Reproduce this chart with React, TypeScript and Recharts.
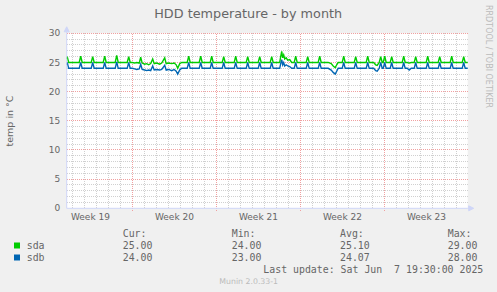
import { LineChart, Line, XAxis, YAxis, ReferenceLine, ReferenceArea, ReferenceDot } from "recharts";

// time axis in hours from the left edge of the plot (2h per rrd sample)
const hours = [
  0, 1, 4,
  25, 28, 31, 49, 52, 55, 73, 76, 79, 97, 100, 103, 121, 124, 127,
  131, 136, 140, 145, 148, 151, 156, 160, 164, 168, 172, 175, 180, 186, 190, 196, 199, 204, 210, 215, 219, 222, 226, 230,
  241, 244, 247, 265, 268, 271, 287, 290, 293, 311, 314, 317, 335, 338, 341, 359, 362, 365, 383, 386, 389, 407, 410, 413,
  426, 428, 430, 432, 434, 436, 439, 442, 446, 450,
  455, 458, 461, 479, 482, 485, 503, 506, 509,
  523, 529, 533, 537, 540, 543,
  551, 554, 557, 575, 578, 581, 599, 602, 605,
  614, 618, 621, 625, 628, 631, 633, 636, 639,
  647, 650, 653, 671, 674, 677,
  681, 685, 689,
  695, 698, 701, 719, 722, 725, 743, 746, 749, 767, 770, 773, 791, 794, 797,
  802,
];

const sda = [
  25.6, 26.0, 25.0,
  25, 26.1, 25, 25, 26.0, 25, 25, 26.1, 25, 25, 26.2, 25, 25, 26.0, 25,
  25.0, 24.9, 25.0, 24.9, 25.9, 24.9, 24.7, 24.8, 24.6, 24.8, 25.6, 24.8, 24.9, 24.7, 24.9, 25.8, 24.8, 24.9, 24.8, 24.9, 24.6, 24.0, 24.8, 25.0,
  25, 26.1, 25, 25, 26.1, 25, 25, 26.1, 25, 25, 26.0, 25, 25, 26.1, 25, 25, 26.0, 25, 25, 26.0, 25, 25, 26.0, 25,
  25.0, 26.0, 26.9, 25.8, 26.3, 25.6, 25.8, 25.4, 25.5, 25.0,
  25, 26.1, 25, 25, 26.0, 25, 25, 26.1, 25,
  25.0, 24.8, 24.4, 24.1, 24.6, 25.0,
  25, 26.1, 25, 25, 26.0, 25, 25, 26.1, 25,
  25.0, 24.6, 24.5, 25.0, 26.0, 25.0, 25.0, 26.1, 25.0,
  25, 26.0, 25, 25, 26.1, 25,
  25.0, 24.9, 25.0,
  25, 26.0, 25, 25, 26.1, 25, 25, 26.0, 25, 25, 26.1, 25, 25, 26.0, 25,
  25.0,
];

const sdb = [
  24.6, 25.0, 24.0,
  24, 25.0, 24, 24, 25.0, 24, 24, 25.0, 24, 24, 25.1, 24, 24, 25.0, 24,
  24.0, 23.9, 23.8, 23.9, 24.7, 23.8, 23.7, 23.6, 23.7, 23.6, 24.4, 23.7, 23.8, 23.7, 23.8, 24.5, 23.7, 23.8, 23.6, 23.8, 23.5, 23.0, 23.7, 24.0,
  24, 25, 24, 24, 25, 24, 24, 25, 24, 24, 25, 24, 24, 25, 24, 24, 25, 24, 24, 25, 24, 24, 25, 24,
  24.0, 24.8, 25.5, 24.6, 25.0, 24.4, 24.6, 24.4, 24.3, 24.0,
  24, 25, 24, 24, 25, 24, 24, 25, 24,
  24.0, 23.7, 23.3, 23.0, 23.5, 24.0,
  24, 25, 24, 24, 25, 24, 24, 25, 24,
  24.0, 23.6, 23.5, 24.0, 25.0, 24.0, 24.0, 25.0, 24.0,
  24, 25, 24, 24, 25, 24,
  24.0, 23.7, 24.0,
  24, 25, 24, 24, 25, 24, 24, 25, 24, 24, 25, 24, 24, 25, 24,
  24.0,
];

const END = 802;
const WEEK_STARTS = [131.5, 299.5, 467.5, 635.5];
const WEEK_MIDS = [47.5, 215.5, 383.5, 551.5, 719.5];
const WEEK_NAMES = ["Week 19", "Week 20", "Week 21", "Week 22", "Week 23"];
const Y_TICKS = [0, 5, 10, 15, 20, 25, 30];

const LEGEND = [
  { name: "sda", color: "#00cc00", cur: "25.00", min: "24.00", avg: "25.10", max: "29.00" },
  { name: "sdb", color: "#0066b3", cur: "24.00", min: "23.00", avg: "24.07", max: "28.00" },
];

const FONT = "DejaVu Sans, sans-serif";
const MONO = "DejaVu Sans Mono, monospace";
const TXT = "#666666";
const AXIS = "#cfd6f8";
const MINOR = "#d0d0d0";
const MAJOR = "#f0a0a0";

const rows = hours.map((h, i) => ({ h, sda: sda[i], sdb: sdb[i] }));

// daily minor grid + every 1 degree
const dayLines: number[] = [];
for (let t = 11.5; t < END; t += 24) if (!WEEK_STARTS.includes(t)) dayLines.push(t);
const degLines: number[] = [];
for (let v = 1; v < 30; v++) if (v % 5 !== 0) degLines.push(v);

export default function App() {
  return (
    <div style={{ position: "absolute", left: 0, top: 0, width: 497, height: 292, background: "#f0f0f0" }}>
      <LineChart width={497} height={292} data={rows} margin={{ top: 33.3, right: 29.3, bottom: 63.7, left: 0 }}>
        <XAxis
          type="number"
          dataKey="h"
          domain={[0, END]}
          ticks={WEEK_MIDS}
          tickFormatter={(v) => WEEK_NAMES[WEEK_MIDS.indexOf(v)] ?? ""}
          tick={{ fontSize: 9, fill: TXT, fontFamily: FONT }}
          tickLine={false}
          tickSize={0}
          tickMargin={5}
          axisLine={{ stroke: AXIS }}
          height={20}
          interval={0}
        />
        <YAxis
          domain={[0, 30]}
          ticks={Y_TICKS}
          tick={{ fontSize: 9, fill: TXT, fontFamily: FONT }}
          tickLine={false}
          tickSize={0}
          tickMargin={6.5}
          axisLine={{ stroke: AXIS }}
          width={66.7}
          interval={0}
        />
        <ReferenceArea x1={0} x2={END} y1={0} y2={30} fill="#ffffff" fillOpacity={1} stroke="none" />
        {dayLines.map((t) => (
          <ReferenceLine key={"d" + t} x={t} stroke={MINOR} strokeDasharray="1 1" shapeRendering="crispEdges" />
        ))}
        {degLines.map((v) => (
          <ReferenceLine key={"g" + v} y={v} stroke={MINOR} strokeDasharray="1 1" shapeRendering="crispEdges" />
        ))}
        {Y_TICKS.filter((v) => v > 0).map((v) => (
          <ReferenceLine key={"m" + v} y={v} stroke={MAJOR} strokeDasharray="1 1" shapeRendering="crispEdges" />
        ))}
        {WEEK_STARTS.map((t) => (
          <ReferenceLine
            key={"w" + t}
            segment={[{ x: t, y: -0.4 }, { x: t, y: 30 }]}
            ifOverflow="visible"
            stroke={MAJOR}
            strokeDasharray="1 1"
            shapeRendering="crispEdges"
          />
        ))}
        <ReferenceDot
          x={0}
          y={30}
          ifOverflow="visible"
          shape={(p: any) => (
            <path d={`M${p.cx},${p.cy} L${p.cx},${p.cy - 1.5} M${p.cx - 2.5},${p.cy - 1.5} L${p.cx + 2.5},${p.cy - 1.5} L${p.cx},${p.cy - 6.5} Z`} fill={AXIS} stroke={AXIS} strokeWidth={1} />
          )}
        />
        <ReferenceDot
          x={END}
          y={0}
          ifOverflow="visible"
          shape={(p: any) => (
            <path d={`M${p.cx},${p.cy} L${p.cx + 1},${p.cy} M${p.cx + 1},${p.cy - 2.5} L${p.cx + 1},${p.cy + 2.5} L${p.cx + 6},${p.cy} Z`} fill={AXIS} stroke={AXIS} strokeWidth={1} />
          )}
        />
        <Line type="linear" dataKey="sda" stroke="#00cc00" strokeWidth={1.4} dot={false} isAnimationActive={false} />
        <Line type="linear" dataKey="sdb" stroke="#0066b3" strokeWidth={1.4} dot={false} isAnimationActive={false} />
      </LineChart>
      <svg width={497} height={292} style={{ position: "absolute", left: 0, top: 0, pointerEvents: "none" }}>
        <text x={248.2} y={18.3} textAnchor="middle" fontFamily={FONT} fontSize={12.8} fill={TXT}>
          HDD temperature - by month
        </text>
        <text x={13} y={121} textAnchor="middle" fontFamily={FONT} fontSize={9.5} fill={TXT} transform="rotate(-90 13 121)">
          temp in °C
        </text>
        <text x={485.7} y={56.5} textAnchor="middle" fontFamily={FONT} fontSize={8} fill="#bbbbbb" transform="rotate(90 485.7 56.5)">
          RRDTOOL / TOBI OETIKER
        </text>
        <g fontFamily={MONO} fontSize={9.9} fill={TXT} xmlSpace="preserve">
          <text x={122.7} y={237.3}>Cur:</text>
          <text x={231.7} y={237.3}>Min:</text>
          <text x={340} y={237.3}>Avg:</text>
          <text x={447.7} y={237.3}>Max:</text>
          {LEGEND.map((s, i) => (
            <g key={s.name}>
              <rect x={14} y={242.5 + i * 12} width={6} height={6} fill={s.color} />
              <text x={26.7} y={248.7 + i * 12}>{s.name}</text>
              <text x={122.7} y={248.7 + i * 12}>{s.cur}</text>
              <text x={231.7} y={248.7 + i * 12}>{s.min}</text>
              <text x={340} y={248.7 + i * 12}>{s.avg}</text>
              <text x={447.7} y={248.7 + i * 12}>{s.max}</text>
            </g>
          ))}
          <text x={483.3} y={272.7} textAnchor="end" xmlSpace="preserve">{"Last update: Sat Jun  7 19:30:00 2025"}</text>
        </g>
        <text x={248.7} y={284.3} textAnchor="middle" fontFamily={FONT} fontSize={7.8} fill="#bbbbbb">
          Munin 2.0.33-1
        </text>
      </svg>
    </div>
  );
}
